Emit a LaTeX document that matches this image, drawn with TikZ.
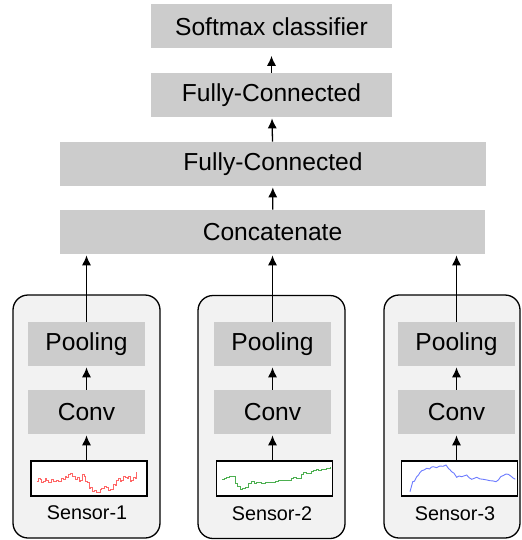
\documentclass[tikz,border=0pt]{standalone}
\usepackage{fontspec}
\setmainfont{Liberation Sans}
\usetikzlibrary{arrows.meta}
\definecolor{layergray}{HTML}{CCCCCC}
\definecolor{panelgray}{HTML}{F2F2F2}
\definecolor{sigred}{HTML}{FF6666}
\definecolor{siggreen}{HTML}{4CAF50}
\definecolor{sigblue}{HTML}{6C7BFF}
\tikzset{
  layer/.style={fill=layergray, inner sep=0pt, minimum height=22pt,
    font=\fontsize{12.3}{14}\selectfont},
  panel/.style={draw, fill=panelgray, line width=0.65pt, rounded corners=7.5pt,
    minimum width=73.5pt, minimum height=121.5pt},
  sigbox/.style={draw, fill=white, line width=0.75pt, minimum width=58pt, minimum height=17.5pt},
  sensorlbl/.style={font=\fontsize{9.9}{12}\selectfont},
  flow/.style={-{Latex[length=5pt,width=4.6pt]}, line width=0.65pt, shorten >=0.5pt},
  trace/.style={line width=0.45pt}
}
\begin{document}
\begin{tikzpicture}[x=0.5pt, y=-0.5pt]
\useasboundingbox (0,0) rectangle (522,540);
% sensor panels
\node[panel] (p1) at (86.5,416.5) {};
\node[panel] (p2) at (271.5,417) {};
\node[panel, minimum width=68pt] (p3) at (452,416.5) {};
% shared layers
\node[layer, minimum width=120.5pt] (soft) at (271.5,26.5) {Softmax classifier};
\node[layer, minimum width=120.5pt] (fcb) at (271.5,95) {Fully-Connected};
\node[layer, minimum width=213pt] (fca) at (273,164) {Fully-Connected};
\node[layer, minimum width=212.5pt] (cat) at (272.5,232) {Concatenate};
% per-sensor layers
\node[layer, minimum width=58.5pt] (pool1) at (86.5,344) {Pooling};
\node[layer, minimum width=58.5pt] (conv1) at (86.5,412) {Conv};
\node[sigbox] (sig1) at (89,478.5) {};
\node[sensorlbl] (lbl1) at (87,513) {Sensor-1};
\node[layer, minimum width=58.5pt] (pool2) at (272.5,344) {Pooling};
\node[layer, minimum width=58.5pt] (conv2) at (272.5,412) {Conv};
\node[sigbox] (sig2) at (274.5,478.5) {};
\node[sensorlbl] (lbl2) at (272,514) {Sensor-2};
\node[layer, minimum width=58.5pt] (pool3) at (456.5,344) {Pooling};
\node[layer, minimum width=58.5pt] (conv3) at (456.5,412) {Conv};
\node[sigbox] (sig3) at (459.5,478.5) {};
\node[sensorlbl] (lbl3) at (455,514) {Sensor-3};
% signals
\draw[trace, sigred] plot[const plot] coordinates {(36.7,481.7) (38.5,478.5) (40,479.3) (41.5,482) (43.3,481) (45,478.8) (46.7,480) (48.5,482.5) (50,482) (51.5,479.5) (53.3,481) (56,480) (58.3,481.7) (61,478.5) (63.3,479.3) (65,476.5) (66.7,477.3) (68.5,474.5) (70.7,473.3) (72.5,476.8) (74,476) (75.5,479) (77.3,477.3) (79,481.5) (80.7,480.7) (82.5,474.5) (84,476) (85.5,481) (87.3,482.7) (89,488.5) (90.7,487.3) (92.3,491) (94,490.7) (96,492.8) (98.3,492) (100,489) (101.7,488.3) (104,486.2) (106,487.3) (108.5,490) (110.7,489.3) (113,484) (115,485) (116.5,480) (118.3,478.7) (120,481.5) (121.7,480.7) (123.5,476) (125,477.3) (127,478) (128.3,476.7) (130,481.5) (131.7,480.7) (133.5,477.5) (135,478.3) (136,472.5) (136.7,471.7)};
\draw[trace, siggreen] plot[const plot] coordinates {(222.3,479) (224.5,478) (226.7,477.3) (229.5,476.5) (232.7,476) (235,483.3) (237.5,486) (240,489.3) (242.5,488.5) (245,487.3) (248,483) (251.7,481.7) (254,483.5) (256.7,482.7) (259,482.5) (261.7,483.3) (265,482.2) (268.3,482) (271.5,482.2) (275,481.7) (278,480.4) (281.7,480) (285,480.9) (288.3,480.7) (291,478) (293.3,477.3) (296,478.6) (298.3,478.3) (301,474) (303.3,472.7) (306,473.6) (308.3,473.3) (311,471.4) (313.3,470.7) (316,469.7) (318.3,470) (321,469.5) (323.3,469.3) (326.5,468.5) (330,467.3)};
\draw[trace, sigblue] plot coordinates {(410,491.7) (411.3,487) (412.7,481.7) (414.5,481.2) (416.7,476.7) (418.5,475) (419.8,472.8) (421.7,470.7) (424,470) (426.7,468.3) (429.5,468.9) (431.5,467.1) (433.3,466.7) (436.5,467.6) (440,466) (443,466.3) (446,465) (448.5,468.5) (450,469.8) (451.7,471.7) (454,473.2) (456.7,477.3) (459,476) (461.7,476.7) (464,475.9) (466.7,475) (469,477.6) (471.7,479.3) (474,478.4) (476.7,477.3) (480,478.9) (483.3,479.3) (486.5,479.9) (490,480.7) (493,480.9) (496,481.7) (498.5,479.8) (500.7,476.7) (503.5,475.4) (506,474) (508.5,474.4) (510.7,476) (513,477.9) (515.3,479.3)};
% connections
\draw[flow] (sig1.north -| conv1.south) -- (conv1.south);
\draw[flow] (conv1) -- (pool1);
\draw[flow] (pool1.north) -- (pool1.north |- cat.south);
\draw[flow] (sig2.north -| conv2.south) -- (conv2.south);
\draw[flow] (conv2) -- (pool2);
\draw[flow] (pool2.north) -- (pool2.north |- cat.south);
\draw[flow] (sig3.north -| conv3.south) -- (conv3.south);
\draw[flow] (conv3) -- (pool3);
\draw[flow] (pool3.north) -- (pool3.north |- cat.south);
\draw[flow] (cat) -- (fca);
\draw[flow] (fca) -- (fcb);
\draw[flow, shorten >=3.5pt] (fcb) -- (soft);
\end{tikzpicture}
\end{document}
